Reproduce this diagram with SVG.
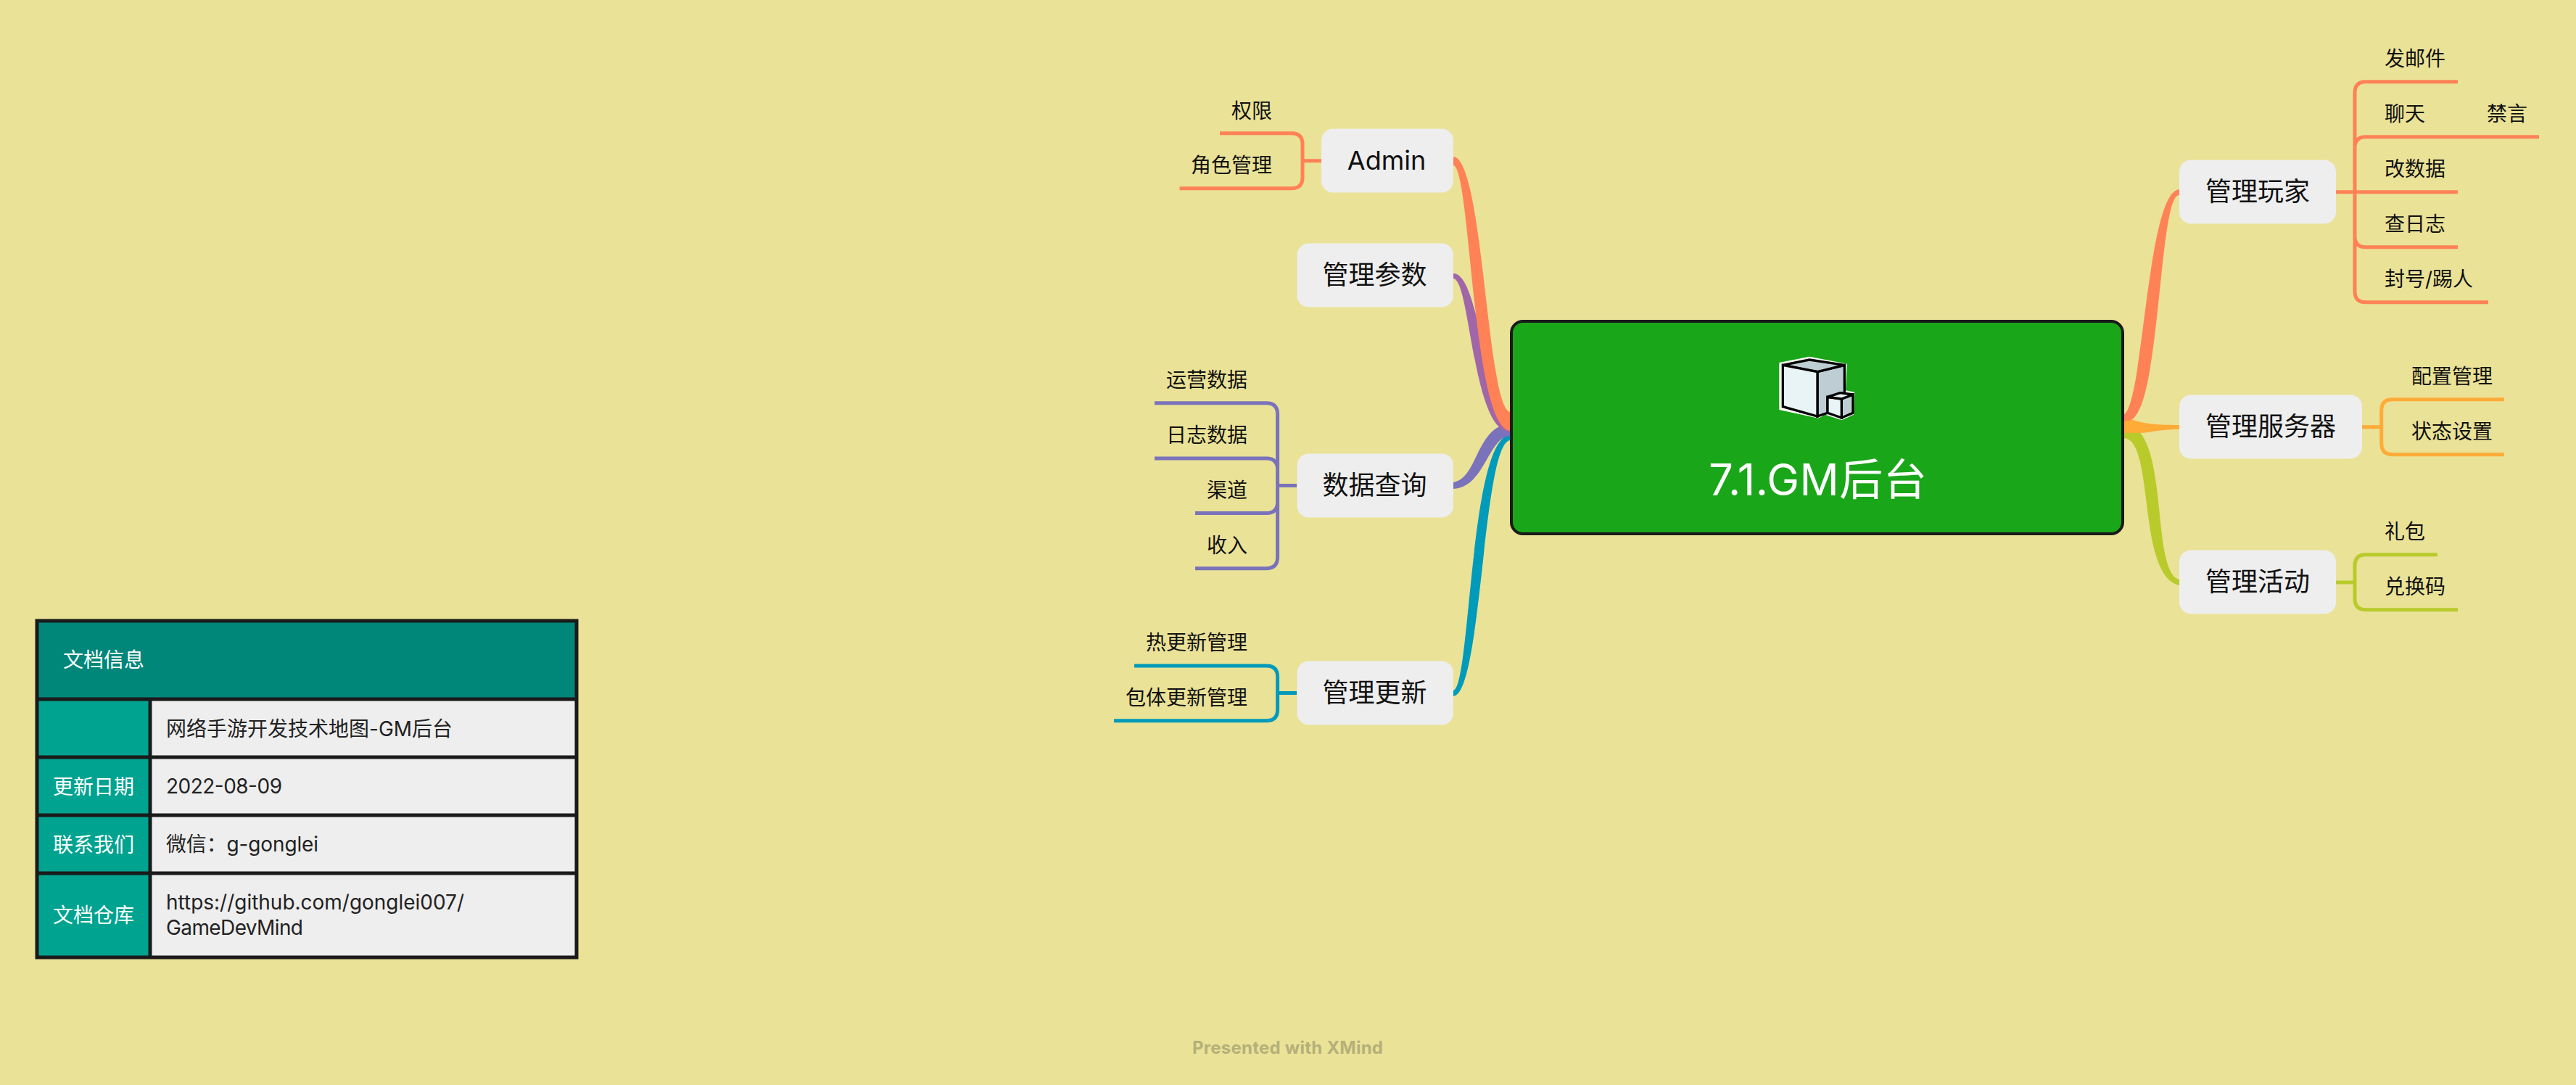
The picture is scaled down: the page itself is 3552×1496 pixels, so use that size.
<svg xmlns="http://www.w3.org/2000/svg" width="3552" height="1496" viewBox="0 0 3552 1496">
<style>
text{font-family:"Inter","Noto Sans CJK SC",sans-serif;fill:#111}
.t{font-size:36px;text-anchor:middle}
.l{font-size:28px}
.e{text-anchor:end}
.b{fill:#eee}
.c{fill:#222}
.leaf{fill:none;stroke-width:5}
.or{stroke:#ff8257}.ye{stroke:#ffab38}.li{stroke:#b8cb2b}.vi{stroke:#7a73bb}.te{stroke:#009abb}
.grid{fill:none;stroke:#1a1a1a;stroke-width:5}
.ic{stroke:#000;stroke-width:10;stroke-linejoin:miter}
</style>
<rect width="3552" height="1496" fill="#eae297"/>
<g id="connectors">
<path fill="#009abb" d="M2004 952 C2028 950 2026 600 2083 600 L2083 607 C2044 607 2044 957 2004 960Z"/>
<path fill="#7a73bb" d="M2004 665 C2038 660 2036 585 2083 585 L2083 601 C2052 601 2048 672 2004 674Z"/>
<path fill="#a066a8" d="M2004 377 C2042 377 2048 575 2083 575 L2083 596 C2030 596 2028 386 2004 384Z"/>
<path fill="#ff8257" d="M2004 216 C2046 218 2050 568 2083 568 L2083 594 C2030 594 2028 230 2004 228Z"/>
<path fill="#b8cb2b" d="M2928 585 C2994 585 2964 790 3005 799 L3005 807 C2946 795 2972 604 2928 604Z"/>
<path fill="#ffab38" d="M2928 579 L2941 579 C2955 583 2965 586 3005 586 L3005 592 C2975 592 2965 597 2949 597 L2928 597Z"/>
<path fill="#ff8257" d="M2928 572 C2956 560 2960 264 3005 261 L3005 269 C2976 267 2980 570 2936 580 L2928 580Z"/>
<path class="leaf or" d="M1682 183.7 H1781 Q1796 183.7 1796 198.7 V244.7 Q1796 259.7 1781 259.7 H1626.5 M1822 221.7 H1796"/>
<path class="leaf or" d="M3389 112.7 H3262 Q3247 112.7 3247 127.7 V401.7 Q3247 416.7 3262 416.7 H3431 M3501 188.7 H3262 Q3247 188.7 3247 203.7 M3389 340.7 H3262 Q3247 340.7 3247 325.7 M3221 264.7 H3389"/>
<path class="leaf vi" d="M1592 555.8 H1746 Q1761.6 555.8 1761.6 571 V768 Q1761.6 783.7 1746 783.7 H1648 M1592 631.9 H1746 Q1761.6 631.9 1761.6 647 M1648 707.6 H1746 Q1761.6 707.6 1761.6 692 M1788 669.5 H1761.6"/>
<path class="leaf te" d="M1564 918 H1746 Q1761.6 918 1761.6 933 V978.8 Q1761.6 993.8 1746 993.8 H1536 M1788 955.6 H1761.6"/>
<path class="leaf ye" d="M3453 550.7 H3299 Q3283.7 550.7 3283.7 566 V611 Q3283.7 626.7 3299 626.7 H3453 M3257 588.7 H3283.7"/>
<path class="leaf li" d="M3361 764.7 H3262 Q3247 764.7 3247 780 V825 Q3247 840.7 3262 840.7 H3389 M3221 803 H3247"/>
</g>
<g id="root">
<rect x="2084" y="443" width="843" height="293" rx="16" fill="#1aa619" stroke="#1a1a1a" stroke-width="4"/>
<g transform="translate(2400 470) scale(.3333)">
<polygon fill="#fff" points="160,90 285,65 440,95 435,205 472,212 468,305 418,328 350,305 322,320 160,285"/>
<polygon class="ic" fill="#bdcdd3" points="318,128 430,100 430,215 360,232 360,298 318,312"/>
<polygon class="ic" fill="#bdcdd3" points="175,100 285,78 430,100 318,128"/>
<polygon class="ic" fill="#e8f4f5" points="175,100 318,128 318,312 175,272"/>
<polygon class="ic" fill="#bdcdd3" points="418,240 465,222 465,298 418,318"/>
<polygon class="ic" fill="#e8f4f5" points="360,232 418,240 418,318 360,298"/>
<polygon class="ic" fill="#e8f4f5" points="360,232 412,215 465,222 418,240"/>
</g>
<text x="2356" y="683" font-size="60" textLength="301" style="fill:#fff">7.1.GM后台</text>
</g>
<g id="admin"><rect class="b" x="1822" y="177.5" width="182" height="88" rx="16"/><text class="t" x="1912" y="234">Admin</text></g>
<g id="params"><rect class="b" x="1788.5" y="335.5" width="215.5" height="88" rx="16"/><text class="t" x="1895.5" y="392">管理参数</text></g>
<g id="query"><rect class="b" x="1788.5" y="625.5" width="215.5" height="88" rx="16"/><text class="t" x="1895.5" y="682">数据查询</text></g>
<g id="update"><rect class="b" x="1788.5" y="911.5" width="215.5" height="88" rx="16"/><text class="t" x="1895.5" y="968">管理更新</text></g>
<g id="player"><rect class="b" x="3005" y="220.5" width="216" height="88" rx="16"/><text class="t" x="3113" y="277">管理玩家</text></g>
<g id="server"><rect class="b" x="3005" y="544.5" width="252" height="88" rx="16"/><text class="t" x="3131" y="601">管理服务器</text></g>
<g id="activity"><rect class="b" x="3005" y="758.5" width="216" height="88" rx="16"/><text class="t" x="3113" y="815">管理活动</text></g>
<g id="leaf-left">
<text class="l e" x="1754" y="163">权限</text>
<text class="l e" x="1754" y="238">角色管理</text>
<text class="l e" x="1720" y="534">运营数据</text>
<text class="l e" x="1720" y="610">日志数据</text>
<text class="l e" x="1720" y="686">渠道</text>
<text class="l e" x="1720" y="762">收入</text>
<text class="l e" x="1720" y="896">热更新管理</text>
<text class="l e" x="1720" y="972">包体更新管理</text>
</g>
<g id="leaf-right">
<text class="l" x="3288" y="91">发邮件</text>
<text class="l" x="3288" y="167">聊天</text>
<text class="l" x="3429" y="167">禁言</text>
<text class="l" x="3288" y="243">改数据</text>
<text class="l" x="3288" y="319">查日志</text>
<text class="l" x="3288" y="395">封号/踢人</text>
<text class="l" x="3325" y="529">配置管理</text>
<text class="l" x="3325" y="605">状态设置</text>
<text class="l" x="3288" y="743">礼包</text>
<text class="l" x="3288" y="819">兑换码</text>
</g>
<g id="info-table">
<rect x="51" y="856" width="744" height="108" fill="#00877a"/>
<rect x="51" y="964" width="156" height="356" fill="#00a390"/>
<rect x="207" y="964" width="588" height="356" fill="#eee"/>
<path class="grid" d="M51 856 H795 V1320 H51 Z M51 964 H795 M51 1044 H795 M51 1124 H795 M51 1204 H795 M207 964 V1320"/>
<text class="l" x="87" y="920" style="fill:#fff">文档信息</text>
<text class="l" x="73" y="1095" style="fill:#fff">更新日期</text>
<text class="l" x="73" y="1175" style="fill:#fff">联系我们</text>
<text class="l" x="73" y="1272" style="fill:#fff">文档仓库</text>
<text class="l c" x="229" y="1015">网络手游开发技术地图-GM后台</text>
<text class="l c" x="229" y="1094" textLength="160">2022-08-09</text>
<text class="l c" x="229" y="1174" textLength="210">微信：g-gonglei</text>
<text class="l c" x="229" y="1254" textLength="411">https://github.com/gonglei007/</text>
<text class="l c" x="229" y="1289" textLength="189">GameDevMind</text>
</g>
<text id="watermark" x="1644" y="1453" font-size="24" font-weight="700" textLength="263" style="fill:#b5b07a">Presented with XMind</text>
</svg>
